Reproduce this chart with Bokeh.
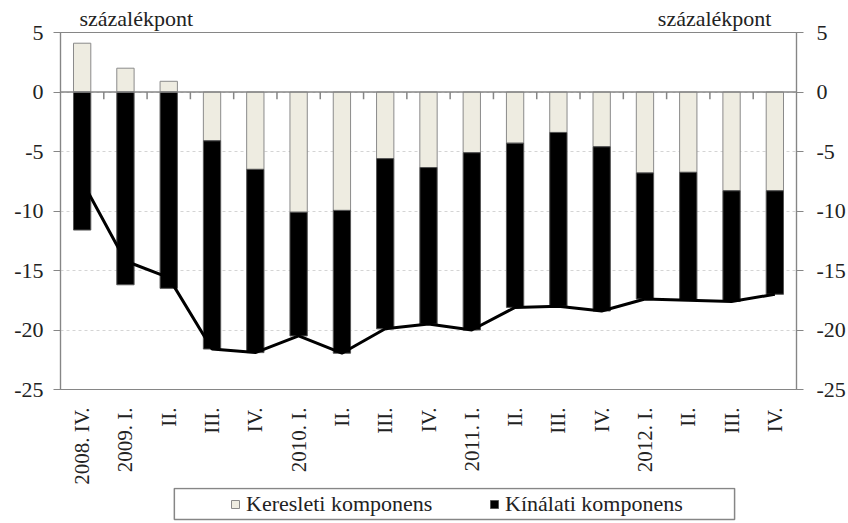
import math
from bokeh.plotting import figure
from bokeh.layouts import column
from bokeh.models import (Range1d, LinearAxis, FixedTicker, Legend, LegendItem,
                          Span, ColumnDataSource)
from bokeh.embed import file_html
from bokeh.resources import INLINE

# ---- data ----
quarters = ["2008. IV.", "2009. I.", "II.", "III.", "IV.", "2010. I.", "II.", "III.",
            "IV.", "2011. I.", "II.", "III.", "IV.", "2012. I.", "II.", "III.", "IV."]
demand = [4.1, 2.0, 0.9, -4.1, -6.5, -10.1, -9.95, -5.6, -6.35, -5.1, -4.3, -3.4,
          -4.6, -6.8, -6.75, -8.3, -8.3]
supply = [-11.6, -16.2, -16.5, -17.5, -15.4, -10.4, -12.0, -14.3, -13.15, -14.9,
          -13.8, -14.6, -13.8, -10.6, -10.75, -9.3, -8.7]
y_ticks = [5, 0, -5, -10, -15, -20, -25]
unit_label = "százalékpont"
series_names = ["Keresleti komponens", "Kínálati komponens"]

# ---- derived ----
n = len(quarters)
xs = list(range(n))
s_top = [d if d < 0 else 0 for d in demand]
s_bottom = [(d if d < 0 else 0) + s for d, s in zip(demand, supply)]
total = [d + s for d, s in zip(demand, supply)]

src = ColumnDataSource(dict(x=xs, d_top=demand, d_bottom=[0] * n,
                            s_top=s_top, s_bottom=s_bottom, total=total))

FONT = "Liberation Serif, serif"
FS = "22px"
FS_X = "21px"
TXT = "#222222"
AX = "#868686"
LIGHT = "#EEECE1"
LIGHT_EDGE = "#8a8a8a"
DARK_EDGE = "#555555"
BL, BR = 60, 51          # left / right borders shared by both strips

p = figure(width=848, height=487, output_backend="svg", toolbar_location=None,
           x_range=Range1d(-0.5, n - 0.5), y_range=Range1d(min(y_ticks), max(y_ticks)),
           min_border_left=BL, min_border_right=BR, min_border_top=32,
           min_border_bottom=98)
p.outline_line_color = AX
p.outline_line_width = 1.2

# grid
p.xgrid.visible = False
p.ygrid.ticker = FixedTicker(ticks=y_ticks)
p.ygrid.grid_line_color = "#d4d4d4"
p.ygrid.grid_line_dash = "3 3"


def style_y(ax, standoff):
    ax.ticker = FixedTicker(ticks=y_ticks)
    ax.major_label_overrides = {t: str(t) for t in y_ticks}
    ax.axis_line_color = AX
    ax.axis_line_width = 1.2
    ax.major_tick_line_color = AX
    ax.major_tick_out = 7
    ax.major_tick_in = 0
    ax.minor_tick_line_color = None
    ax.major_label_standoff = standoff
    ax.major_label_text_font = FONT
    ax.major_label_text_font_size = FS
    ax.major_label_text_color = TXT


style_y(p.yaxis[0], 10)
ra = LinearAxis()
style_y(ra, 13)
p.add_layout(ra, "right")

# bottom axis: category labels only
xa = p.xaxis[0]
xa.ticker = FixedTicker(ticks=xs)
xa.major_label_overrides = {i: q for i, q in enumerate(quarters)}
xa.major_label_orientation = math.pi / 2
xa.axis_line_color = None
xa.major_tick_line_color = None
xa.minor_tick_line_color = None
xa.major_label_standoff = 12
xa.major_label_text_font = FONT
xa.major_label_text_font_size = FS_X
xa.major_label_text_color = TXT

# top axis used only to show the unit label above each y axis
frame_w = 848 - BL - BR
px_per_cat = frame_w / n
left_pos = round((136 - BL) / px_per_cat - 0.5, 2)
right_pos = round((715 - BL) / px_per_cat - 0.5, 2)
ta = LinearAxis(ticker=FixedTicker(ticks=[left_pos, right_pos]),
                major_label_overrides={left_pos: unit_label, right_pos: unit_label})
ta.axis_line_color = None
ta.major_tick_line_color = None
ta.major_tick_out = 0
ta.major_tick_in = 0
ta.minor_tick_line_color = None
ta.minor_tick_out = 0
ta.major_label_standoff = 2
ta.major_label_text_font = FONT
ta.major_label_text_font_size = FS
ta.major_label_text_color = TXT
p.add_layout(ta, "above")

# zero line with small ticks between categories
p.add_layout(Span(location=0, dimension="width", line_color=AX, line_width=1.5))
bounds = [i + 0.5 for i in range(n - 1)]
p.segment(x0=bounds, x1=bounds, y0=[0] * len(bounds), y1=[-0.6] * len(bounds),
          line_color=AX, line_width=1.5)

# bars
p.vbar(x="x", top="d_top", bottom="d_bottom", width=0.4, source=src,
       fill_color=LIGHT, line_color=LIGHT_EDGE, line_width=1)
p.vbar(x="x", top="s_top", bottom="s_bottom", width=0.4, source=src,
       fill_color="black", line_color=DARK_EDGE, line_width=1)
# total line
p.line(x="x", y="total", source=src, line_color="black", line_width=3)

# legend strip: pixel-like ranges, box drawn as an outline rectangle
LH = 36
lg = figure(width=848, height=LH, output_backend="svg", toolbar_location=None,
            x_range=Range1d(BL, 848 - BR), y_range=Range1d(0, LH),
            x_axis_location=None, y_axis_location=None,
            min_border_left=BL, min_border_right=BR, min_border_top=0,
            min_border_bottom=0)
lg.grid.visible = False
lg.outline_line_color = None
lg.quad(left=[174], right=[735], bottom=[4], top=[LH - 1], fill_color=None,
        line_color=AX, line_width=1.5)
# legend swatch renderers (placed outside the visible range)
r1 = lg.vbar(x=[-100], top=[0], bottom=[0], width=1, fill_color=LIGHT,
             line_color=LIGHT_EDGE)
r2 = lg.vbar(x=[-100], top=[0], bottom=[0], width=1, fill_color="black",
             line_color=DARK_EDGE)
legend = Legend(items=[LegendItem(label=series_names[0], renderers=[r1]),
                       LegendItem(label=series_names[1], renderers=[r2])],
                orientation="horizontal", location=(230 - BL, 6), padding=0, spacing=0,
                label_width=243, label_height=21, glyph_width=10, glyph_height=10,
                label_standoff=6, background_fill_alpha=0, border_line_alpha=0,
                margin=0, label_text_font=FONT, label_text_font_size=FS,
                label_text_color=TXT)
lg.add_layout(legend, "center")

layout = column(p, lg, spacing=0)
open("out.html", "w").write(file_html(layout, INLINE))
